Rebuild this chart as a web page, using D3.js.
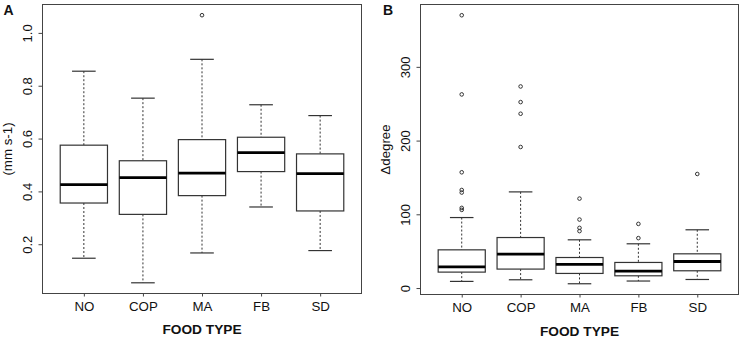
<!DOCTYPE html>
<html lang="en">
<head>
    <meta charset="utf-8">
    <title>Food type boxplots</title>
    <script src="https://d3js.org/d3.v7.min.js"></script>
    <style>
        body { margin: 0; background: #fff; }
        text { font-family: "Liberation Sans", Arial, sans-serif; fill: #111; }
    </style>
</head>
<body>
<script type="text/javascript">
    var categories = ['NO', 'COP', 'MA', 'FB', 'SD'];

    // panel A: speed (mm s-1) - whisker low, Q1, median, Q3, whisker high
    var speedLow = [0.147, 0.054, 0.167, 0.341, 0.176];
    var speedQ1 = [0.356, 0.313, 0.384, 0.475, 0.326];
    var speedMed = [0.426, 0.452, 0.469, 0.547, 0.467];
    var speedQ3 = [0.575, 0.516, 0.596, 0.605, 0.542];
    var speedHigh = [0.855, 0.753, 0.900, 0.728, 0.687];
    var speedOut = [[], [], [1.067], [], []];
    var speedTicks = [0.2, 0.4, 0.6, 0.8, 1.0];

    // panel B: delta degree
    var degLow = [9, 11.2, 5.8, 9.5, 11.6];
    var degQ1 = [21.6, 25.7, 19.8, 16.6, 23.4];
    var degMed = [28.8, 46, 32, 23, 36];
    var degQ3 = [51.8, 68.5, 41.4, 34.7, 46.4];
    var degHigh = [95.6, 130.4, 65.4, 60, 79];
    var degOut = [
        [370, 262.6, 157, 133, 129.5, 108.7, 106],
        [273.4, 252.2, 236.4, 191.3],
        [121.3, 92.9, 81.6, 77.2],
        [87, 67.7],
        [154.7]
    ];
    var degTicks = [0, 100, 200, 300];

    var svg = d3.select('body')
        .append('svg')
        .attr('width', 743)
        .attr('height', 339);

    function drawPanel(opt) {
        var n = categories.length;
        var all = opt.low.concat(opt.high, d3.merge(opt.out));
        var lo = d3.min(all), hi = d3.max(all);
        var pad = (hi - lo) * 0.04;

        var x = d3.scaleLinear().domain([0.3, n + 0.7]).range([opt.left, opt.right]);
        var y = d3.scaleLinear().domain([lo - pad, hi + pad]).range([opt.bottom, opt.top]);
        var g = svg.append('g');

        var boxes = d3.range(n).map(function (i) {
            return { i: i + 1, low: opt.low[i], q1: opt.q1[i], med: opt.med[i], q3: opt.q3[i], high: opt.high[i], out: opt.out[i] };
        });

        var b = g.selectAll('g.box').data(boxes).enter().append('g').attr('class', 'box');

        // whiskers
        b.append('line')
            .attr('x1', function (d) { return x(d.i); })
            .attr('x2', function (d) { return x(d.i); })
            .attr('y1', function (d) { return y(d.high); })
            .attr('y2', function (d) { return y(d.q3); })
            .attr('stroke', '#333').attr('stroke-dasharray', '2,2');
        b.append('line')
            .attr('x1', function (d) { return x(d.i); })
            .attr('x2', function (d) { return x(d.i); })
            .attr('y1', function (d) { return y(d.q1); })
            .attr('y2', function (d) { return y(d.low); })
            .attr('stroke', '#333').attr('stroke-dasharray', '2,2');
        // staples
        ['low', 'high'].forEach(function (k) {
            b.append('line')
                .attr('x1', function (d) { return x(d.i - 0.2); })
                .attr('x2', function (d) { return x(d.i + 0.2); })
                .attr('y1', function (d) { return y(d[k]); })
                .attr('y2', function (d) { return y(d[k]); })
                .attr('stroke', '#333').attr('stroke-width', 1.2);
        });
        // box
        b.append('rect')
            .attr('x', function (d) { return x(d.i - 0.4); })
            .attr('width', function (d) { return x(d.i + 0.4) - x(d.i - 0.4); })
            .attr('y', function (d) { return y(d.q3); })
            .attr('height', function (d) { return y(d.q1) - y(d.q3); })
            .attr('fill', '#fff').attr('stroke', '#333').attr('stroke-width', 1.2);
        // median
        b.append('line')
            .attr('x1', function (d) { return x(d.i - 0.4); })
            .attr('x2', function (d) { return x(d.i + 0.4); })
            .attr('y1', function (d) { return y(d.med); })
            .attr('y2', function (d) { return y(d.med); })
            .attr('stroke', '#000').attr('stroke-width', 2.8);
        // outliers
        b.each(function (d) {
            d3.select(this).selectAll('circle').data(d.out).enter().append('circle')
                .attr('cx', x(d.i))
                .attr('cy', function (v) { return y(v); })
                .attr('r', 1.8)
                .attr('fill', 'none').attr('stroke', '#333').attr('stroke-width', 1);
        });

        // frame
        g.append('rect')
            .attr('x', opt.left).attr('y', opt.top)
            .attr('width', opt.right - opt.left).attr('height', opt.bottom - opt.top)
            .attr('fill', 'none').attr('stroke', '#444').attr('stroke-width', 1);

        var xAxis = d3.axisBottom(x)
            .tickValues(d3.range(1, n + 1))
            .tickFormat(function (d) { return categories[d - 1]; })
            .tickSize(3).tickPadding(5.5);
        var gx = g.append('g')
            .attr('transform', 'translate(0,' + opt.bottom + ')')
            .call(xAxis);
        gx.select('.domain').remove();
        gx.selectAll('line').attr('stroke', '#444');
        gx.selectAll('text').style('font-family', '"Liberation Sans", Arial, sans-serif').style('font-size', '13.3px').attr('fill', '#111');

        var yAxis = d3.axisLeft(y).tickValues(opt.ticks).tickFormat(opt.fmt).tickSize(4);
        var gy = g.append('g')
            .attr('transform', 'translate(' + opt.left + ',0)')
            .call(yAxis);
        gy.select('.domain').remove();
        gy.selectAll('line').attr('stroke', '#444');
        gy.selectAll('text')
            .attr('transform', 'rotate(-90)')
            .attr('x', 0).attr('y', -opt.tickOff).attr('dy', 0)
            .attr('text-anchor', 'middle')
            .style('font-family', '"Liberation Sans", Arial, sans-serif').style('font-size', '13px').attr('fill', '#111');

        // titles
        g.append('text')
            .attr('x', (opt.left + opt.right) / 2).attr('y', opt.xTitleY)
            .attr('text-anchor', 'middle')
            .style('font-size', '13.7px').style('font-weight', 'bold')
            .text('FOOD TYPE');
        g.append('text')
            .attr('transform', 'translate(' + opt.yTitleX + ',' + ((opt.top + opt.bottom) / 2) + ') rotate(-90)')
            .attr('text-anchor', 'middle')
            .style('font-size', '13.3px')
            .text(opt.yTitle);
        g.append('text')
            .attr('x', opt.tagX).attr('y', 14.5)
            .style('font-size', '14px').style('font-weight', 'bold')
            .text(opt.tag);
    }

    drawPanel({
        left: 42.5, right: 361.5, top: 4.5, bottom: 293.5,
        low: speedLow, q1: speedQ1, med: speedMed, q3: speedQ3, high: speedHigh, out: speedOut,
        ticks: speedTicks, fmt: d3.format('.1f'), tickOff: 11,
        yTitle: '(mm s-1)', yTitleX: 11.5, xTitleY: 334,
        tag: 'A', tagX: 3.5
    });

    drawPanel({
        left: 420.5, right: 738.5, top: 4.5, bottom: 294.5,
        low: degLow, q1: degQ1, med: degMed, q3: degQ3, high: degHigh, out: degOut,
        ticks: degTicks, fmt: d3.format('d'), tickOff: 10.5,
        yTitle: '\u0394degree', yTitleX: 390, xTitleY: 336,
        tag: 'B', tagX: 383
    });
</script>
</body>
</html>
